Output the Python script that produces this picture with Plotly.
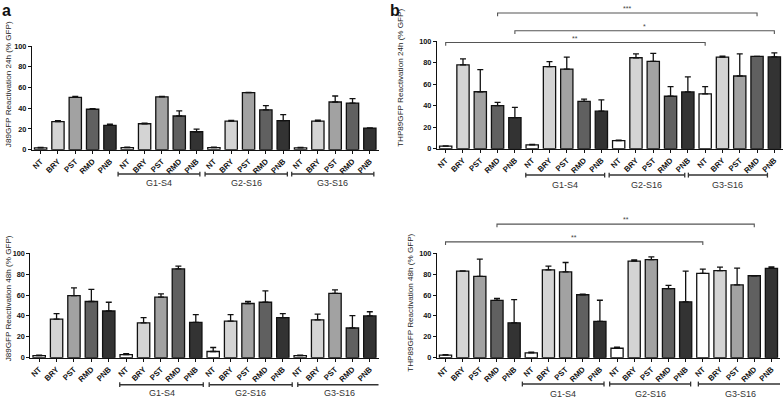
import plotly.graph_objects as go

W, H = 784, 404

# categories (same order in every panel)
treatments = ["NT", "BRY", "PST", "RMD", "PNB"]
groups = ["G1-S4", "G2-S16", "G3-S16"]
categories = treatments * 4
x_idx = list(range(len(categories)))

# J89 24h
j89_24h = [1.8, 27, 50.5, 39, 23.5, 2, 25, 51, 32.5, 17.3, 2, 27.5, 55, 38.5, 28, 1.8, 27.5, 46, 45, 20.8]
j89_24h_err = [0.5, 1, 1, 0.5, 1.2, 0.5, 0.6, 0.5, 5, 2.5, 0.5, 0.8, 0.3, 4, 5.8, 0.5, 1, 5.8, 4.2, 0.3]

# J89 48h
j89_48h = [2, 36.9, 59.4, 53.8, 44.7, 2.8, 33.4, 58.1, 85, 33.8, 5.9, 35, 51.9, 53.1, 38.4, 1.9, 36.2, 61.6, 28.4, 40]
j89_48h_err = [0.5, 5.3, 7.5, 11.6, 8.4, 1, 5, 3.1, 2.8, 7.5, 3.8, 6.2, 1.9, 10.9, 3.8, 0.4, 5.6, 3.4, 11.9, 4]

# THP89 24h
thp_24h = [2.4, 78.2, 53.1, 40.1, 28.9, 3.6, 76.6, 74.2, 44.1, 35, 7.6, 84.8, 81.5, 48.9, 52.9, 51.1, 85.4, 67.8, 86, 85.7]
thp_24h_err = [0.3, 5.5, 20.7, 3.1, 9.7, 0.4, 4.6, 11.2, 2.1, 10.6, 0.3, 3.6, 7.3, 8.9, 14, 6.7, 0.9, 20.6, 0, 3.7]

# THP89 48h
thp_48h = [2.5, 82.9, 77.9, 54.8, 33.4, 4.5, 84.2, 82.2, 60.3, 34.7, 9, 92.5, 94, 66.2, 53.5, 80.7, 83.4, 69.7, 78.5, 85.5]
thp_48h_err = [0.4, 0.3, 16.6, 1.9, 22.3, 0.8, 3.5, 9, 0.6, 20.3, 1, 1.2, 2.5, 3, 29.5, 4.2, 3.4, 16.2, 0, 1.4]

y_ticks = [0, 20, 40, 60, 80, 100]

# significance brackets: (from idx, to idx, height in % GFP, label)
sig_b_24h = [(0, 15, 99, "**"), (4, 19, 110, "*"), (3, 18, 126.5, "***")]
sig_b_48h = [(0, 15, 111, "**"), (3, 18, 128, "**")]

treat_colors = {"NT": "#ffffff", "BRY": "#d4d4d4", "PST": "#a2a2a2", "RMD": "#606060", "PNB": "#333333"}
bar_colors = [treat_colors[c] for c in categories]


def px(p):
    return p / W


def py(p):
    return 1 - p / H


# panel layout in pixels: x domain, y of 0 and 100, title pos, group bracket spans/y
panels = [
    dict(y=j89_24h, err=j89_24h_err, title="J89GFP Reactivation 24h (% GFP)",
         xd=(31, 378), y0=149, y100=43, tpos=(7, 82),
         spans=[(4.47, 9.19), (9.49, 14.24), (14.49, 19.23)], gy=174, ly=183, sig=[]),
    dict(y=j89_48h, err=j89_48h_err, title="J89GFP Reactivation 48h (% GFP)",
         xd=(29.5, 378), y0=361.7, y100=255, tpos=(7, 301),
         spans=[(4.63, 9.43), (9.77, 14.54), (14.86, 19.68)], gy=389.3, ly=397.5, sig=[]),
    dict(y=thp_24h, err=thp_24h_err, title="THP89GFP Reactivation 24h (% GFP)",
         xd=(436.6, 783), y0=148, y100=38.3, tpos=(400, 75),
         spans=[(4.63, 9.19), (9.45, 13.82), (14.03, 18.6)], gy=175, ly=185, sig=sig_b_24h),
    dict(y=thp_48h, err=thp_48h_err, title="THP89GFP Reactivation 48h (% GFP)",
         xd=(436.5, 780), y0=361.7, y100=255, tpos=(410, 305),
         spans=[(4.48, 9.24), (9.57, 14.29), (14.74, 19.6)], gy=388.7, ly=398.5, sig=sig_b_48h),
]

fig = go.Figure()
shapes = []
annotations = []
font_family = "Liberation Sans, Arial, sans-serif"

for k, p in enumerate(panels, start=1):
    sfx = "" if k == 1 else str(k)
    xa, ya = "x" + sfx, "y" + sfx
    fig.add_trace(go.Bar(
        x=x_idx, y=p["y"], xaxis=xa, yaxis=ya,
        marker=dict(color=bar_colors, line=dict(color="#111111", width=1.3)),
        width=0.71,
        error_y=dict(type="data", symmetric=False, array=p["err"],
                     arrayminus=[0] * len(p["err"]), color="#111111",
                     thickness=1.3, width=3),
        showlegend=False, hoverinfo="skip",
    ))
    fig.layout["xaxis" + sfx] = dict(
        domain=[px(p["xd"][0]), px(p["xd"][1])], anchor=ya,
        range=[-0.5, len(categories) - 0.5], tickmode="array",
        tickvals=x_idx, ticktext=categories, tickangle=-45,
        tickfont=dict(family=font_family, size=7.8, color="#111111", weight="bold"),
        showline=True, linecolor="#111111", linewidth=1.3,
        ticks="outside", ticklen=3, tickwidth=1.1, tickcolor="#111111",
        showgrid=False, zeroline=False, fixedrange=True,
    )
    fig.layout["yaxis" + sfx] = dict(
        domain=[py(p["y0"]), py(p["y100"])], anchor=xa,
        range=[0, 100], tickmode="array", tickvals=y_ticks,
        tickfont=dict(family=font_family, size=7.3, color="#111111", weight="bold"),
        showline=True, linecolor="#111111", linewidth=1.3,
        ticks="outside", ticklen=3, tickwidth=1.1, tickcolor="#111111",
        showgrid=False, zeroline=False, fixedrange=True,
    )
    # y title
    annotations.append(dict(
        text=p["title"], x=px(p["tpos"][0]), y=py(p["tpos"][1]),
        xref="paper", yref="paper", showarrow=False, textangle=-90,
        font=dict(family=font_family, size=8.1, color="#222222"),
        xanchor="center", yanchor="middle",
    ))
    # group brackets under the axis
    gy = py(p["gy"])
    cap = 2.5 / H
    for (a, b), g in zip(p["spans"], groups):
        shapes.append(dict(type="line", xref=xa, yref="paper", x0=a, x1=b, y0=gy, y1=gy,
                           line=dict(color="#333333", width=1.5)))
        for e in (a, b):
            shapes.append(dict(type="line", xref=xa, yref="paper", x0=e, x1=e,
                               y0=gy - cap, y1=gy + cap, line=dict(color="#333333", width=1.3)))
        annotations.append(dict(
            text=g, x=(a + b) / 2, y=py(p["ly"]), xref=xa, yref="paper",
            showarrow=False, xanchor="center", yanchor="middle",
            font=dict(family=font_family, size=9, color="#333333"),
        ))
    # significance brackets
    for i0, i1, lvl, lab in p["sig"]:
        yl = lvl / 100
        drop = 0.03
        shapes.append(dict(type="path", xref=xa, yref=ya + " domain",
                           path=f"M {i0},{yl - drop} L {i0},{yl} L {i1},{yl} L {i1},{yl - drop}",
                           line=dict(color="#555555", width=1.1)))
        annotations.append(dict(
            text=lab, x=(i0 + i1) / 2, y=yl, xref=xa, yref=ya + " domain",
            showarrow=False, xanchor="center", yanchor="bottom", yshift=-1,
            font=dict(family=font_family, size=7, color="#444444"),
        ))

# panel letters
for lab, xp, yp in [("a", 6, 7), ("b", 395, 7)]:
    annotations.append(dict(
        text=lab, x=px(xp), y=py(yp), xref="paper", yref="paper", showarrow=False,
        xanchor="center", yanchor="middle",
        font=dict(family=font_family, size=16, color="#111111", weight="bold"),
    ))

fig.update_layout(
    width=W, height=H, margin=dict(l=0, r=0, t=0, b=0),
    paper_bgcolor="white", plot_bgcolor="white",
    bargap=0.29, shapes=shapes, annotations=annotations,
)

# page body has a default margin; drop it so the figure sits at the window corner
fig.write_html("out.html", config={"displayModeBar": False},
               post_script="document.body.style.margin='0';")
